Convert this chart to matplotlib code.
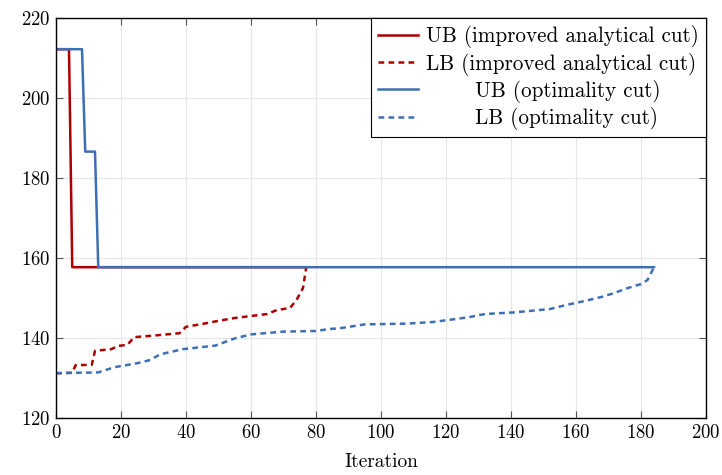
import numpy as np
import matplotlib
matplotlib.use('Agg')
import matplotlib.pyplot as plt

plt.rcParams['font.family'] = 'serif'
plt.rcParams['font.serif'] = ['cmr10', 'DejaVu Serif']
plt.rcParams['mathtext.fontset'] = 'cm'
plt.rcParams['axes.formatter.use_mathtext'] = True

# upper / lower bounds per iteration
ub_iac_x = [0, 4, 5, 77]
ub_iac_y = [212.2, 212.2, 157.7, 157.7]

lb_iac_x = [0, 5, 6, 11, 12, 17, 19, 22, 24, 30, 38, 40, 45, 50, 55, 60, 65, 68, 72, 74, 76, 77]
lb_iac_y = [131.2, 131.3, 133.2, 133.3, 136.8, 137.2, 138.0, 138.3, 140.2, 140.6, 141.2, 142.8,
            143.5, 144.3, 145.0, 145.5, 146.0, 147.0, 147.5, 149.5, 152.5, 157.7]

ub_opt_x = [0, 8, 9, 12, 13, 184]
ub_opt_y = [212.2, 212.2, 186.6, 186.6, 157.7, 157.7]

lb_opt_x = [0, 13, 18, 25, 29, 32, 39, 49, 55, 60, 70, 80, 84, 87, 95, 108, 116, 123, 127,
            132, 141, 152, 157, 163, 168, 172, 175, 180, 182, 184]
lb_opt_y = [131.2, 131.4, 132.7, 133.7, 134.5, 135.9, 137.2, 138.1, 139.9, 140.9, 141.6, 141.75,
            142.25, 142.4, 143.4, 143.6, 144.0, 144.75, 145.2, 146.0, 146.4, 147.25, 148.25,
            149.3, 150.3, 151.3, 152.25, 153.5, 154.5, 157.7]

RED = '#ad0000'
BLUE = '#3d6fb4'

fig = plt.figure(figsize=(7.22, 4.75), dpi=100)
ax = fig.add_axes([56/722, 1-418/475, 650/722, 400/475])

lw = 1.8
ax.plot(ub_iac_x, ub_iac_y, color=RED, lw=lw, label='UB (improved analytical cut)')
ax.plot(lb_iac_x, lb_iac_y, color=RED, lw=lw, ls=(0, (2.3, 1.7)), label='LB (improved analytical cut)')
ax.plot(ub_opt_x, ub_opt_y, color=BLUE, lw=lw, label='       UB (optimality cut)')
ax.plot(lb_opt_x, lb_opt_y, color=BLUE, lw=lw, ls=(0, (2.3, 1.7)), label='       LB (optimality cut)')

ax.set_xlim(0, 200)
ax.set_ylim(120, 220)
ax.set_xticks(np.arange(0, 201, 20))
ax.set_yticks(np.arange(120, 221, 20))
ax.grid(True, color='#e6e6e6', lw=0.8)
ax.set_axisbelow(True)
ax.tick_params(direction='in', top=True, right=True, length=5, width=0.8,
               color='#555555', labelsize=13.5, pad=4)
for s in ax.spines.values():
    s.set_linewidth(1.0)
ax.set_xlabel('Iteration', fontsize=14, labelpad=8)

leg = ax.legend(loc='upper right', fontsize=15.2, frameon=True, fancybox=False,
                edgecolor='black', framealpha=1, borderaxespad=0, handlelength=1.9,
                handletextpad=0.35, labelspacing=0.2, borderpad=0.35)
leg.get_frame().set_linewidth(0.8)

fig.savefig('out.png', dpi=100)
